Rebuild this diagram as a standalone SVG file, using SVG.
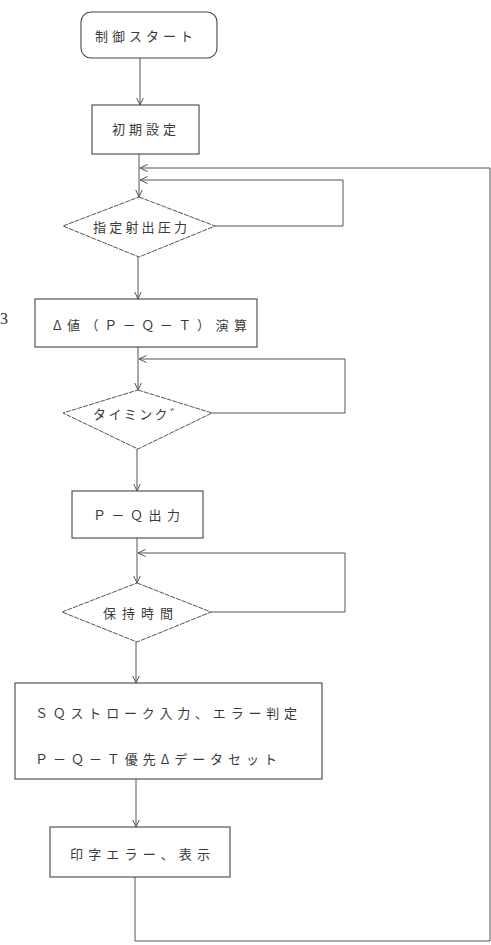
<svg xmlns="http://www.w3.org/2000/svg" width="491" height="945" viewBox="0 0 491 945">
<style>
  .box { fill: none; stroke: #444; stroke-width: 1.1; }
  .dia { fill: none; stroke: #555; stroke-width: 1; stroke-dasharray: 5 1; }
  .ln { fill: none; stroke: #555; stroke-width: 1; }
  .t { font-family: "Noto Sans CJK JP", "Noto Sans", sans-serif; font-size: 13px; fill: #3a3a3a; dominant-baseline: central; }
  .n { font-family: "Liberation Serif", serif; font-size: 16px; fill: #333; }
</style>
<defs>
  <marker id="ah" viewBox="0 0 8 8" refX="7.5" refY="4" markerWidth="8" markerHeight="8" markerUnits="userSpaceOnUse" orient="auto">
    <path d="M0,0.5 L7.5,4 L0,7.5" fill="none" stroke="#555" stroke-width="1"/>
  </marker>
</defs>
<rect width="491" height="945" fill="#fff"/>

<g id="connectors">
  <path class="ln" d="M140,58 L140,105" marker-end="url(#ah)"/>
  <path class="ln" d="M139,154 L139,197" marker-end="url(#ah)"/>
  <path class="ln" d="M135,877 L135,941 L490,941 L490,168 L140,168" marker-end="url(#ah)"/>
  <path class="ln" d="M215,226 L343,226 L343,180 L140,180" marker-end="url(#ah)"/>
  <path class="ln" d="M138,257 L138,299" marker-end="url(#ah)"/>
  <path class="ln" d="M138,347 L138,390" marker-end="url(#ah)"/>
  <path class="ln" d="M212,413 L345,413 L345,359 L139,359" marker-end="url(#ah)"/>
  <path class="ln" d="M137,449 L137,491" marker-end="url(#ah)"/>
  <path class="ln" d="M137,538 L137,583" marker-end="url(#ah)"/>
  <path class="ln" d="M211,612 L345,612 L345,553 L138,553" marker-end="url(#ah)"/>
  <path class="ln" d="M136,642 L136,683" marker-end="url(#ah)"/>
  <path class="ln" d="M136,779 L136,827" marker-end="url(#ah)"/>
</g>

<g id="start">
  <rect class="box" x="81" y="12" width="136" height="46" rx="10"/>
  <text class="t" x="95" y="35" textLength="98" lengthAdjust="spacing">制御スタート</text>
</g>
<g id="init">
  <rect class="box" x="92" y="105" width="107" height="49"/>
  <text class="t" x="112" y="128" textLength="64" lengthAdjust="spacing">初期設定</text>
</g>
<g id="pressure">
  <polygon class="dia" points="139,197 215,226 139,257 63,226"/>
  <text class="t" x="93" y="226" textLength="94" lengthAdjust="spacing">指定射出圧力</text>
</g>
<g id="calc">
  <rect class="box" x="35" y="299" width="222" height="48"/>
  <text class="t" x="53" y="324" textLength="194" lengthAdjust="spacing">Δ値（Ｐ－Ｑ－Ｔ）演算</text>
</g>
<g id="label3">
  <text class="n" x="0" y="324">3</text>
</g>
<g id="timing">
  <polygon class="dia" points="138,390 212,413 138,449 63,413"/>
  <text class="t" x="93" y="413" textLength="90" lengthAdjust="spacing">タイミンク゛</text>
</g>
<g id="pq">
  <rect class="box" x="72" y="491" width="131" height="47"/>
  <text class="t" x="93" y="514" textLength="87" lengthAdjust="spacing">Ｐ－Ｑ出力</text>
</g>
<g id="hold">
  <polygon class="dia" points="137,583 211,612 137,642 62,612"/>
  <text class="t" x="103" y="612" textLength="70" lengthAdjust="spacing">保持時間</text>
</g>
<g id="stroke">
  <rect class="box" x="15" y="683" width="307" height="96"/>
  <text class="t" x="35" y="712" textLength="262" lengthAdjust="spacing">ＳＱストローク入力、エラー判定</text>
  <text class="t" x="35" y="758" textLength="242" lengthAdjust="spacing">Ｐ－Ｑ－Ｔ優先Δデータセット</text>
</g>
<g id="print">
  <rect class="box" x="50" y="827" width="180" height="50"/>
  <text class="t" x="70" y="853" textLength="140" lengthAdjust="spacing">印字エラー、表示</text>
</g>
</svg>
